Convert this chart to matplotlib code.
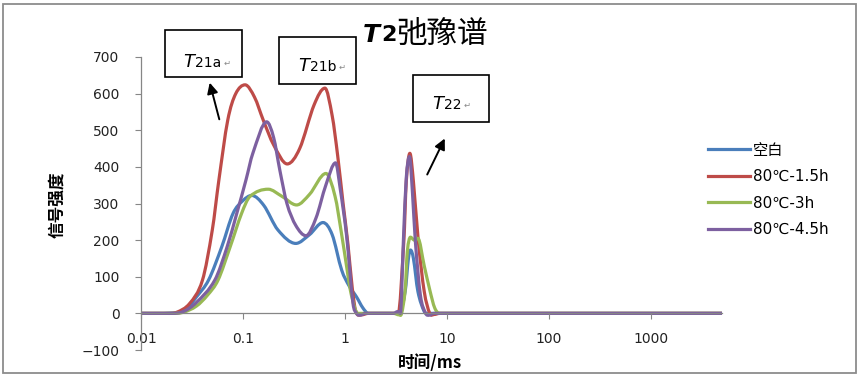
import numpy as np
import matplotlib
matplotlib.use("Agg")
import matplotlib.pyplot as plt
from matplotlib.path import Path
from matplotlib.patches import PathPatch, Rectangle, FancyArrowPatch
from matplotlib.lines import Line2D

plt.rcParams['font.family'] = ['DejaVu Sans', 'Noto Sans CJK SC']

W, H = 860, 376

# --- données (temps en ms, intensité du signal) ---
labels = ['空白', '80℃-1.5h', '80℃-3h', '80℃-4.5h']
colors = ['#4A7EBB', '#BE4B48', '#98B954', '#7D60A0']

x_blank = [0.01, 0.02, 0.027, 0.035, 0.046, 0.062, 0.08, 0.1, 0.122, 0.16, 0.22,
           0.33, 0.45, 0.61, 0.75, 0.93, 1.1, 1.3, 1.5, 1.7, 3.4, 3.9, 4.2, 4.4,
           4.7, 5.2, 6.0, 6.5, 5000]
y_blank = [0, 1, 8, 45, 91, 182, 273, 308, 322, 295, 228,
           191, 215, 248, 215, 118, 75, 45, 15, 0, 0, 60, 150, 173,
           150, 60, 5, 0, 0]

x_15h = [0.01, 0.018, 0.0224, 0.03, 0.04, 0.05, 0.058, 0.071, 0.085, 0.105, 0.13,
         0.158, 0.2, 0.272, 0.36, 0.5, 0.637, 0.75, 0.85, 0.96, 1.07, 1.18, 1.28,
         1.45, 1.7, 3.33, 3.79, 4.0, 4.34, 4.7, 5.24, 6.0, 6.8, 7.5, 8.5, 5000]
y_15h = [0, 0, 3, 27, 90, 227, 363, 528, 600, 624, 590,
         528, 460, 408, 450, 570, 615, 540, 430, 300, 190, 70, 5,
         -4, 0, 0, 200, 360, 437, 360, 200, 60, 0, -3, 0, 0]

x_3h = [0.01, 0.02, 0.026, 0.035, 0.045, 0.057, 0.075, 0.097, 0.117, 0.177, 0.24,
        0.336, 0.45, 0.652, 0.8, 0.93, 1.05, 1.13, 1.25, 1.34, 3.0, 3.4, 3.6,
        3.9, 4.1, 4.4, 4.8, 5.2, 6.0, 6.8, 7.6, 8.5, 5000]
y_3h = [0, 0, 3, 20, 50, 91, 182, 273, 319, 339, 320,
        296, 325, 382, 320, 215, 120, 64, 15, 0, 0, -4, 0,
        64, 170, 208, 200, 205, 130, 64, 15, 0, 0]

x_45h = [0.01, 0.02, 0.026, 0.035, 0.053, 0.07, 0.087, 0.107, 0.125, 0.171, 0.2,
         0.23, 0.27, 0.33, 0.415, 0.52, 0.65, 0.81, 0.9, 1.04, 1.2, 1.3, 1.4,
         1.6, 3.0, 3.3, 3.5, 3.75, 4.0, 4.3, 4.6, 4.9, 5.5, 6.2, 6.7, 7.5, 5000]
y_45h = [0, 0, 5, 30, 91, 182, 273, 364, 437, 523, 480,
         391, 300, 240, 212, 260, 350, 411, 340, 211, 28, 0, -5,
         0, 0, 5, 0, 200, 370, 428, 330, 200, 50, 0, -5, 0, 0]

series = [(x_blank, y_blank), (x_15h, y_15h), (x_3h, y_3h), (x_45h, y_45h)]

xticks = [0.01, 0.1, 1, 10, 100, 1000]
xticklabels = ['0.01', '0.1', '1', '10', '100', '1000']
yticks = list(range(-100, 701, 100))


def courbe_lissee(xs, ys):
    """Chemin de Bézier lissé (façon Excel) en coordonnées log(x), y."""
    lx = np.log10(np.asarray(xs, float))
    y = np.asarray(ys, float)
    d = np.diff(y) / np.diff(lx)
    m = np.zeros_like(y)
    for i in range(1, len(y) - 1):
        if d[i - 1] * d[i] > 0:   # tangente nulle aux extrema et paliers
            m[i] = (y[i + 1] - y[i - 1]) / (lx[i + 1] - lx[i - 1])
    verts = [(xs[0], y[0])]
    codes = [Path.MOVETO]
    for i in range(len(y) - 1):
        h = lx[i + 1] - lx[i]
        c1 = (10 ** (lx[i] + h / 3), y[i] + m[i] * h / 3)
        c2 = (10 ** (lx[i + 1] - h / 3), y[i + 1] - m[i + 1] * h / 3)
        verts += [c1, c2, (xs[i + 1], y[i + 1])]
        codes += [Path.CURVE4] * 3
    return Path(verts, codes)


fig = plt.figure(figsize=(W / 100, H / 100), dpi=100)
ax = fig.add_axes([141 / W, 1 - 350 / H, (722 - 141) / W, (350 - 57) / H])

for (xs, ys), c in zip(series, colors):
    ax.add_patch(PathPatch(courbe_lissee(xs, ys), facecolor='none', edgecolor=c,
                           lw=2.3, capstyle='round', joinstyle='round'))

ax.set_xscale('log')
ax.set_xlim(0.01, 5000)
ax.set_ylim(-100, 700)

gris = '#868686'
ax.spines['top'].set_visible(False)
ax.spines['right'].set_visible(False)
ax.spines['bottom'].set_position(('data', 0))
for s in ('left', 'bottom'):
    ax.spines[s].set_color(gris)
    ax.spines[s].set_linewidth(0.9)

ax.set_xticks(xticks)
ax.set_xticklabels(xticklabels)
ax.xaxis.set_minor_locator(matplotlib.ticker.NullLocator())
ax.tick_params(axis='x', direction='out', length=4.5, color=gris, pad=9,
               labelsize=10, labelcolor='#222222')
ax.set_yticks(yticks)
ax.tick_params(axis='y', direction='out', length=4.5, color=gris, pad=11,
               labelsize=10, labelcolor='#222222')

# titre
fig.text(363 / W, 1 - 35 / H, 'T', fontsize=18, fontweight='bold', style='italic',
         ha='left', va='center')
fig.text(381 / W, 1 - 35 / H, '2', fontsize=16, fontweight='bold',
         ha='left', va='center')
fig.text(396 / W, 1 - 34 / H, '弛豫谱', fontsize=22, family='Noto Sans CJK SC',
         ha='left', va='center')

# titres des axes
fig.text(57 / W, 1 - 205 / H, '信号强度', rotation=90, fontsize=12, fontweight='bold',
         family='Noto Sans CJK SC', ha='center', va='center')
fig.text(430 / W, 1 - 363 / H, '时间/ms', fontsize=12, fontweight='bold',
         family='Noto Sans CJK SC', ha='center', va='center')

# légende
handles = [Line2D([], [], color=c, lw=2.3) for c in colors]
fig.legend(handles, labels, loc='center left', bbox_to_anchor=(708 / W, 1 - 190 / H),
           frameon=False, fontsize=11, handlelength=2.75, handletextpad=0.2,
           labelspacing=0.75, borderpad=0, borderaxespad=0)

# encadrés T21a, T21b, T22
boites = [(165, 30, 242, 77, 183, 62, '21a'),
          (279, 37, 356, 84, 298, 66, '21b'),
          (413, 75, 489, 122, 432, 104, '22')]
for x0, y0, x1, y1, tx, ty, indice in boites:
    fig.add_artist(Rectangle((x0 / W, 1 - y1 / H), (x1 - x0) / W, (y1 - y0) / H,
                             transform=fig.transFigure, facecolor='white',
                             edgecolor='black', lw=1.2))
    fig.text(tx / W, 1 - ty / H, 'T', fontsize=13, style='italic', ha='left', va='center')
    fig.text((tx + 12) / W, 1 - (ty + 1) / H, indice, fontsize=10, ha='left', va='center')
    fig.text((tx + 14 + 9 * len(indice)) / W, 1 - (ty + 1) / H, '↵', fontsize=6,
             color='#888888', ha='left', va='center')

# flèches
for (xa, ya), (xb, yb) in [((220, 122), (209, 80)), ((426, 177), (446, 136))]:
    fig.add_artist(FancyArrowPatch((xa / W, 1 - ya / H), (xb / W, 1 - yb / H),
                                   transform=fig.transFigure, arrowstyle='-|>',
                                   mutation_scale=16, lw=1.4, color='black'))

# cadre extérieur
fig.add_artist(Rectangle((3 / W, 1 - 373 / H), 853 / W, 369 / H, transform=fig.transFigure,
                         facecolor='none', edgecolor='#8c8c8c', lw=1.3))

fig.savefig('out.png', dpi=100)
